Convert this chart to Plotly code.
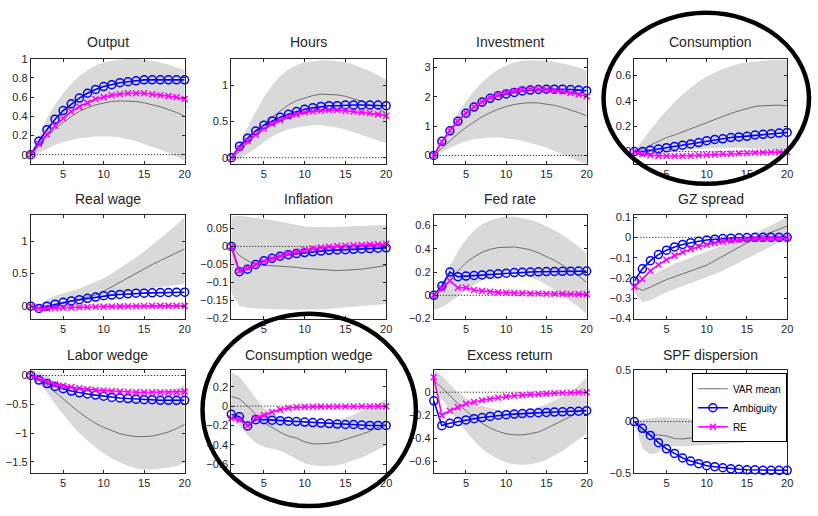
import plotly.graph_objects as go

W, H = 818, 516
x_steps = list(range(1, 21))
x_ticks = [5, 10, 15, 20]

titles = ["Output", "Hours", "Investment", "Consumption",
          "Real wage", "Inflation", "Fed rate", "GZ spread",
          "Labor wedge", "Consumption wedge", "Excess return", "SPF dispersion"]

# ---------------- data ----------------
output_amb = [0, 0.14, 0.26, 0.37, 0.46, 0.53, 0.59, 0.64, 0.68, 0.71, 0.73, 0.75, 0.76, 0.77, 0.78, 0.78, 0.78, 0.78, 0.78, 0.78]
output_re = [0, 0.11, 0.21, 0.30, 0.38, 0.45, 0.50, 0.54, 0.58, 0.60, 0.62, 0.63, 0.64, 0.64, 0.64, 0.63, 0.62, 0.61, 0.60, 0.58]
output_var = [0, 0.10, 0.19, 0.27, 0.34, 0.40, 0.45, 0.49, 0.52, 0.54, 0.555, 0.56, 0.56, 0.555, 0.54, 0.52, 0.50, 0.47, 0.44, 0.40]
output_hi = [0, 0.20, 0.38, 0.52, 0.64, 0.74, 0.82, 0.88, 0.93, 0.96, 0.98, 0.99, 1.0, 1.0, 0.99, 0.98, 0.96, 0.94, 0.91, 0.88]
output_lo = [0, 0.02, 0.06, 0.10, 0.13, 0.15, 0.17, 0.18, 0.19, 0.19, 0.19, 0.18, 0.16, 0.14, 0.11, 0.08, 0.05, 0.02, -0.02, -0.06]

hours_amb = [0, 0.16, 0.27, 0.37, 0.45, 0.51, 0.56, 0.60, 0.64, 0.67, 0.69, 0.71, 0.72, 0.72, 0.73, 0.73, 0.73, 0.73, 0.73, 0.72]
hours_re = [0, 0.13, 0.23, 0.32, 0.40, 0.47, 0.52, 0.57, 0.60, 0.63, 0.64, 0.65, 0.66, 0.66, 0.65, 0.64, 0.63, 0.62, 0.60, 0.58]
hours_var = [0, 0.08, 0.20, 0.33, 0.45, 0.56, 0.65, 0.73, 0.79, 0.83, 0.86, 0.88, 0.88, 0.87, 0.85, 0.82, 0.78, 0.73, 0.68, 0.62]
hours_hi = [0, 0.20, 0.42, 0.64, 0.84, 1.00, 1.13, 1.22, 1.28, 1.32, 1.34, 1.35, 1.35, 1.34, 1.32, 1.29, 1.25, 1.20, 1.14, 1.08]
hours_lo = [0, -0.02, 0.05, 0.13, 0.22, 0.29, 0.35, 0.39, 0.42, 0.44, 0.45, 0.45, 0.44, 0.42, 0.39, 0.36, 0.32, 0.28, 0.24, 0.20]

invest_amb = [0, 0.48, 0.84, 1.17, 1.44, 1.65, 1.82, 1.95, 2.04, 2.10, 2.15, 2.20, 2.23, 2.25, 2.26, 2.26, 2.26, 2.25, 2.23, 2.21]
invest_re = [0, 0.47, 0.84, 1.17, 1.45, 1.66, 1.83, 1.97, 2.07, 2.15, 2.20, 2.24, 2.26, 2.26, 2.25, 2.22, 2.18, 2.13, 2.08, 2.02]
invest_var = [0, 0.25, 0.50, 0.74, 0.96, 1.15, 1.32, 1.46, 1.58, 1.67, 1.74, 1.78, 1.80, 1.79, 1.76, 1.71, 1.64, 1.56, 1.46, 1.35]
invest_hi = [0, 0.50, 1.00, 1.45, 1.85, 2.20, 2.50, 2.74, 2.93, 3.07, 3.17, 3.23, 3.25, 3.25, 3.23, 3.20, 3.15, 3.08, 3.00, 2.90]
invest_lo = [0, 0.10, 0.25, 0.38, 0.48, 0.55, 0.59, 0.61, 0.61, 0.59, 0.55, 0.50, 0.43, 0.35, 0.26, 0.16, 0.05, -0.07, -0.19, -0.30]

cons_amb = [0, 0.0, 0.01, 0.02, 0.03, 0.04, 0.05, 0.06, 0.07, 0.085, 0.095, 0.10, 0.11, 0.115, 0.12, 0.13, 0.135, 0.14, 0.145, 0.15]
cons_re = [0, -0.02, -0.03, -0.035, -0.035, -0.035, -0.035, -0.033, -0.03, -0.027, -0.024, -0.02, -0.017, -0.014, -0.012, -0.01, -0.008, -0.006, -0.005, -0.004]
cons_var = [0, 0.02, 0.05, 0.08, 0.11, 0.13, 0.155, 0.18, 0.20, 0.23, 0.25, 0.275, 0.30, 0.32, 0.34, 0.355, 0.36, 0.365, 0.365, 0.36]
cons_hi = [0, 0.09, 0.17, 0.25, 0.32, 0.39, 0.45, 0.50, 0.55, 0.59, 0.62, 0.65, 0.67, 0.69, 0.70, 0.71, 0.715, 0.72, 0.72, 0.72]
cons_lo = [0, -0.04, -0.03, -0.02, -0.01, 0.0, 0.01, 0.015, 0.02, 0.025, 0.03, 0.03, 0.03, 0.03, 0.03, 0.025, 0.02, 0.015, 0.01, 0.0]

wage_amb = [0, -0.035, 0.0, 0.03, 0.06, 0.08, 0.10, 0.12, 0.14, 0.16, 0.17, 0.18, 0.19, 0.20, 0.20, 0.205, 0.21, 0.21, 0.215, 0.215]
wage_re = [0, -0.04, -0.035, -0.03, -0.025, -0.02, -0.017, -0.013, -0.01, -0.008, -0.005, -0.003, 0.0, 0.0, 0.003, 0.005, 0.005, 0.005, 0.005, 0.005]
wage_var = [0, -0.04, -0.02, 0.01, 0.04, 0.07, 0.10, 0.13, 0.17, 0.23, 0.30, 0.37, 0.44, 0.51, 0.58, 0.64, 0.70, 0.76, 0.82, 0.88]
wage_hi = [0, 0.02, 0.10, 0.16, 0.20, 0.23, 0.27, 0.32, 0.37, 0.43, 0.50, 0.58, 0.66, 0.75, 0.84, 0.94, 1.04, 1.14, 1.25, 1.37]
wage_lo = [0, -0.08, -0.06, -0.03, 0.0, 0.03, 0.06, 0.09, 0.12, 0.15, 0.18, 0.20, 0.22, 0.24, 0.26, 0.28, 0.30, 0.31, 0.32, 0.34]

infl_amb = [0, -0.07, -0.063, -0.05, -0.04, -0.033, -0.027, -0.023, -0.02, -0.017, -0.015, -0.013, -0.011, -0.01, -0.009, -0.008, -0.007, -0.006, -0.005, -0.004]
infl_re = [0, -0.068, -0.06, -0.05, -0.042, -0.034, -0.027, -0.02, -0.015, -0.01, -0.006, -0.003, -0.001, 0.001, 0.002, 0.003, 0.004, 0.005, 0.006, 0.007]
infl_var = [0, -0.025, -0.04, -0.05, -0.052, -0.053, -0.054, -0.056, -0.058, -0.061, -0.063, -0.065, -0.066, -0.067, -0.066, -0.065, -0.063, -0.06, -0.057, -0.053]
infl_hi = [0.083, 0.085, 0.082, 0.078, 0.076, 0.073, 0.068, 0.063, 0.058, 0.055, 0.054, 0.053, 0.053, 0.054, 0.055, 0.056, 0.057, 0.058, 0.059, 0.06]
infl_lo = [-0.13, -0.165, -0.17, -0.172, -0.173, -0.174, -0.175, -0.175, -0.175, -0.175, -0.175, -0.174, -0.173, -0.172, -0.17, -0.168, -0.166, -0.164, -0.162, -0.16]

fed_amb = [0, 0.08, 0.20, 0.16, 0.165, 0.17, 0.175, 0.18, 0.185, 0.19, 0.195, 0.198, 0.20, 0.202, 0.204, 0.205, 0.206, 0.207, 0.208, 0.208]
fed_re = [0, 0.06, 0.125, 0.065, 0.065, 0.045, 0.037, 0.03, 0.025, 0.022, 0.02, 0.018, 0.016, 0.015, 0.014, 0.013, 0.012, 0.011, 0.01, 0.01]
fed_var = [0, 0.04, 0.13, 0.21, 0.28, 0.33, 0.37, 0.395, 0.41, 0.415, 0.415, 0.405, 0.39, 0.365, 0.335, 0.30, 0.26, 0.215, 0.165, 0.11]
fed_hi = [0, 0.10, 0.25, 0.38, 0.48, 0.56, 0.61, 0.645, 0.665, 0.675, 0.675, 0.665, 0.65, 0.625, 0.595, 0.56, 0.52, 0.47, 0.42, 0.36]
fed_lo = [-0.13, -0.10, -0.06, -0.01, 0.04, 0.09, 0.13, 0.16, 0.18, 0.19, 0.19, 0.18, 0.16, 0.13, 0.09, 0.05, 0.0, -0.05, -0.10, -0.16]

gz_amb = [-0.215, -0.155, -0.115, -0.085, -0.063, -0.047, -0.035, -0.026, -0.019, -0.013, -0.009, -0.006, -0.004, -0.002, -0.001, 0, 0, 0, 0, 0]
gz_re = [-0.245, -0.205, -0.165, -0.135, -0.11, -0.09, -0.072, -0.058, -0.046, -0.036, -0.028, -0.021, -0.016, -0.012, -0.009, -0.007, -0.005, -0.004, -0.003, -0.002]
gz_var = [-0.24, -0.262, -0.245, -0.225, -0.208, -0.194, -0.18, -0.166, -0.152, -0.137, -0.115, -0.093, -0.07, -0.048, -0.026, -0.005, 0.01, 0.025, 0.04, 0.055]
gz_hi = [-0.20, -0.21, -0.19, -0.17, -0.15, -0.13, -0.115, -0.10, -0.085, -0.07, -0.055, -0.04, -0.025, -0.01, 0.005, 0.02, 0.04, 0.06, 0.08, 0.10]
gz_lo = [-0.27, -0.32, -0.31, -0.29, -0.27, -0.255, -0.24, -0.225, -0.21, -0.195, -0.18, -0.165, -0.145, -0.125, -0.105, -0.085, -0.065, -0.045, -0.025, -0.01]

labor_amb = [0, -0.08, -0.14, -0.19, -0.23, -0.27, -0.30, -0.32, -0.34, -0.36, -0.38, -0.39, -0.40, -0.41, -0.42, -0.42, -0.43, -0.43, -0.43, -0.43]
labor_re = [0, -0.06, -0.11, -0.15, -0.18, -0.20, -0.22, -0.24, -0.25, -0.26, -0.27, -0.28, -0.285, -0.29, -0.29, -0.29, -0.29, -0.29, -0.29, -0.28]
labor_var = [0, -0.07, -0.17, -0.29, -0.41, -0.53, -0.64, -0.74, -0.83, -0.90, -0.96, -1.01, -1.04, -1.06, -1.06, -1.05, -1.02, -0.98, -0.92, -0.85]
labor_hi = [0.08, 0.07, 0.0, -0.10, -0.20, -0.28, -0.34, -0.39, -0.42, -0.44, -0.45, -0.45, -0.44, -0.43, -0.41, -0.38, -0.33, -0.28, -0.23, -0.17]
labor_lo = [0.0, -0.10, -0.30, -0.50, -0.68, -0.85, -1.00, -1.13, -1.25, -1.35, -1.44, -1.51, -1.57, -1.61, -1.63, -1.63, -1.62, -1.60, -1.57, -1.52]

cwedge_amb = [-0.085, -0.11, -0.205, -0.14, -0.14, -0.145, -0.15, -0.155, -0.16, -0.165, -0.17, -0.175, -0.18, -0.185, -0.19, -0.19, -0.195, -0.2, -0.2, -0.2]
cwedge_re = [-0.125, -0.14, -0.2, -0.12, -0.093, -0.06, -0.036, -0.02, -0.012, -0.008, -0.006, -0.005, -0.004, -0.004, -0.003, -0.003, -0.002, -0.002, -0.002, -0.001]
cwedge_var = [0.10, 0.075, 0.0, -0.09, -0.17, -0.22, -0.27, -0.31, -0.33, -0.37, -0.39, -0.39, -0.385, -0.37, -0.345, -0.32, -0.29, -0.26, -0.22, -0.19]
cwedge_hi = [0.35, 0.30, 0.20, 0.08, -0.02, -0.08, -0.12, -0.15, -0.17, -0.18, -0.18, -0.17, -0.16, -0.14, -0.12, -0.09, -0.05, -0.01, 0.03, 0.07]
cwedge_lo = [-0.10, -0.20, -0.30, -0.38, -0.42, -0.44, -0.46, -0.50, -0.55, -0.59, -0.61, -0.62, -0.62, -0.61, -0.59, -0.56, -0.53, -0.49, -0.45, -0.41]

excess_amb = [-0.075, -0.29, -0.27, -0.255, -0.24, -0.23, -0.22, -0.21, -0.2, -0.195, -0.19, -0.185, -0.18, -0.178, -0.175, -0.172, -0.17, -0.168, -0.165, -0.16]
excess_re = [0.13, -0.20, -0.16, -0.13, -0.10, -0.085, -0.07, -0.058, -0.048, -0.038, -0.031, -0.025, -0.02, -0.016, -0.012, -0.009, -0.007, -0.005, -0.003, -0.001]
excess_var = [0.10, 0.04, -0.03, -0.10, -0.16, -0.22, -0.27, -0.31, -0.34, -0.36, -0.37, -0.37, -0.36, -0.345, -0.315, -0.28, -0.25, -0.21, -0.17, -0.12]
excess_hi = [0.19, 0.14, 0.07, 0.0, -0.05, -0.09, -0.12, -0.14, -0.155, -0.165, -0.165, -0.16, -0.15, -0.13, -0.105, -0.075, -0.04, 0.0, 0.06, 0.13]
excess_lo = [0.0, -0.06, -0.15, -0.25, -0.34, -0.42, -0.49, -0.54, -0.58, -0.61, -0.625, -0.63, -0.625, -0.61, -0.585, -0.55, -0.51, -0.46, -0.41, -0.36]

spf_amb = [0, -0.065, -0.135, -0.205, -0.265, -0.31, -0.355, -0.385, -0.41, -0.43, -0.44, -0.45, -0.46, -0.465, -0.47, -0.47, -0.475, -0.475, -0.475, -0.475]
spf_re = [None] * 20
spf_var = [0, -0.10, -0.13, -0.13, -0.14, -0.165, -0.17, -0.16, -0.16, -0.145, -0.14, -0.13, -0.12, -0.105, -0.095, -0.08, -0.06, -0.04, -0.015, 0.01]
spf_hi = [0, 0.02, 0.03, 0.04, 0.04, 0.04, 0.035, 0.03, 0.03, 0.03, 0.03, 0.04, 0.05, 0.07, 0.09, 0.11, 0.14, 0.17, 0.20, 0.23]
spf_lo = [0, -0.26, -0.32, -0.30, -0.24, -0.24, -0.24, -0.24, -0.23, -0.23, -0.22, -0.22, -0.21, -0.21, -0.20, -0.19, -0.18, -0.17, -0.16, -0.15]

panels = [
    (output_amb, output_re, output_var, output_hi, output_lo),
    (hours_amb, hours_re, hours_var, hours_hi, hours_lo),
    (invest_amb, invest_re, invest_var, invest_hi, invest_lo),
    (cons_amb, cons_re, cons_var, cons_hi, cons_lo),
    (wage_amb, wage_re, wage_var, wage_hi, wage_lo),
    (infl_amb, infl_re, infl_var, infl_hi, infl_lo),
    (fed_amb, fed_re, fed_var, fed_hi, fed_lo),
    (gz_amb, gz_re, gz_var, gz_hi, gz_lo),
    (labor_amb, labor_re, labor_var, labor_hi, labor_lo),
    (cwedge_amb, cwedge_re, cwedge_var, cwedge_hi, cwedge_lo),
    (excess_amb, excess_re, excess_var, excess_hi, excess_lo),
    (spf_amb, spf_re, spf_var, spf_hi, spf_lo),
]

y_ranges = [[-0.1, 1.0], [-0.09, 1.37], [-0.3, 3.3], [-0.1, 0.73],
            [-0.19, 1.4], [-0.2, 0.087], [-0.2, 0.69], [-0.4, 0.11],
            [-1.69, 0.09], [-0.69, 0.37], [-0.7, 0.19], [-0.5, 0.5]]
y_ticks = [[0, 0.2, 0.4, 0.6, 0.8, 1], [0, 0.5, 1], [0, 1, 2, 3], [0, 0.2, 0.4, 0.6],
           [0, 0.5, 1], [-0.2, -0.15, -0.1, -0.05, 0, 0.05], [-0.2, 0, 0.2, 0.4, 0.6],
           [-0.4, -0.3, -0.2, -0.1, 0, 0.1],
           [-1.5, -1, -0.5, 0], [-0.6, -0.4, -0.2, 0, 0.2], [-0.6, -0.4, -0.2, 0], [-0.5, 0, 0.5]]

# ---------------- layout geometry (pixels) ----------------
col_px = [(31, 186), (233, 389), (437, 591), (639, 793)]
row_px = [(54, 162), (214, 320), (373, 478)]
title_y_px = [37, 198, 357]

FONT = "Liberation Sans, Arial, sans-serif"
BLUE = "#0000ff"
MAGENTA = "#ff00ff"
BAND = "#d9d9d9"
VARC = "#6e6e6e"

fig = go.Figure()
layout_axes = {}
annotations = []

for i, (amb, re, var, hi, lo) in enumerate(panels):
    r, c = divmod(i, 4)
    n = i + 1
    xa = "x" if n == 1 else f"x{n}"
    ya = "y" if n == 1 else f"y{n}"
    xk = "xaxis" if n == 1 else f"xaxis{n}"
    yk = "yaxis" if n == 1 else f"yaxis{n}"
    x0, x1 = col_px[c]
    y0, y1 = row_px[r]
    first = (i == 0)

    fig.add_trace(go.Scatter(x=x_steps + x_steps[::-1], y=hi + lo[::-1], fill="toself",
                             fillcolor=BAND, line=dict(width=0), mode="lines",
                             hoverinfo="skip", showlegend=False, xaxis=xa, yaxis=ya))
    fig.add_trace(go.Scatter(x=x_steps, y=var, mode="lines", name="VAR mean",
                             line=dict(color=VARC, width=1), legendgroup="var",
                             showlegend=first, xaxis=xa, yaxis=ya))
    fig.add_trace(go.Scatter(x=[x_steps[0], x_steps[-1]], y=[0, 0], mode="lines",
                             line=dict(color="black", width=1, dash="1px,2px"),
                             showlegend=False, hoverinfo="skip", xaxis=xa, yaxis=ya))
    fig.add_trace(go.Scatter(x=x_steps, y=amb, mode="lines+markers", name="Ambiguity",
                             line=dict(color=BLUE, width=1.6),
                             marker=dict(symbol="circle-open", size=8, color=BLUE, line=dict(width=1.5)),
                             legendgroup="amb", showlegend=first, cliponaxis=False,
                             xaxis=xa, yaxis=ya))
    fig.add_trace(go.Scatter(x=x_steps, y=re, mode="lines+markers", name="RE",
                             line=dict(color=MAGENTA, width=1.6),
                             marker=dict(symbol="x-thin-open", size=6, color=MAGENTA, line=dict(width=1.5, color=MAGENTA)),
                             legendgroup="re", showlegend=first, cliponaxis=False,
                             xaxis=xa, yaxis=ya))

    common = dict(showline=True, linecolor="#262626", linewidth=1, mirror="ticks",
                  ticks="inside", ticklen=3, tickcolor="#262626", showgrid=False,
                  zeroline=False, tickfont=dict(family=FONT, size=11, color="#262626"))
    layout_axes[xk] = dict(domain=[x0 / W, x1 / W], range=[1, 20], tickvals=x_ticks,
                           anchor=ya, **common)
    layout_axes[yk] = dict(domain=[1 - y1 / H, 1 - y0 / H], range=y_ranges[i],
                           tickvals=y_ticks[i], anchor=xa, **common)

    annotations.append(dict(text=titles[i], xref="paper", yref="paper",
                            x=(x0 + x1) / 2 / W, y=1 - title_y_px[r] / H,
                            xanchor="center", yanchor="middle", showarrow=False,
                            font=dict(family=FONT, size=14, color="#262626")))

ellipses = [(608, 7, 815, 182), (204, 315, 419, 512)]
shapes = [dict(type="circle", xref="paper", yref="paper",
               x0=a / W, x1=b / W, y0=1 - d / H, y1=1 - c2 / H,
               line=dict(color="black", width=4.5), layer="above")
          for (a, c2, b, d) in ellipses]

fig.update_layout(
    width=W, height=H, margin=dict(l=0, r=0, t=0, b=0),
    paper_bgcolor="white", plot_bgcolor="white",
    annotations=annotations, shapes=shapes,
    legend=dict(x=697 / W, y=1 - 376 / H, xanchor="left", yanchor="top",
                bgcolor="white", bordercolor="black", borderwidth=1,
                font=dict(family=FONT, size=10, color="black"),
                tracegroupgap=0, itemwidth=30),
    **layout_axes,
)

fig.write_html("out.html")
